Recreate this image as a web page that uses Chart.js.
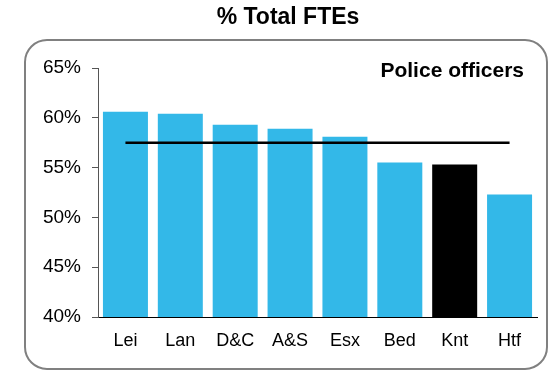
<!DOCTYPE html>
<html>
<head>
<meta charset="utf-8">
<script src="https://cdn.jsdelivr.net/npm/chart.js@4"></script>
<style>
  html, body { margin: 0; padding: 0; background: #fff; }
</style>
</head>
<body>
<canvas id="myChart" width="550" height="372"></canvas>
<script>
const forces = ['Lei', 'Lan', 'D&C', 'A&S', 'Esx', 'Bed', 'Knt', 'Htf'];
const officerShare = [60.6, 60.4, 59.3, 58.9, 58.1, 55.5, 55.3, 52.3];
const averageShare = 57.5;
const highlight = 'Knt';
const yTicks = [40, 45, 50, 55, 60, 65];

const FONT = "Arial, 'Liberation Sans', sans-serif";
const blue = '#33B8E8';

// rounded frame behind the chart + the "Police officers" label
const framePlugin = {
  id: 'frame',
  beforeDraw(chart) {
    const c = chart.ctx;
    c.save();
    c.strokeStyle = '#808080';
    c.lineWidth = 2;
    c.beginPath();
    c.roundRect(25, 40, 522, 329, 22);
    c.stroke();
    c.restore();
  },
  afterDraw(chart) {
    const c = chart.ctx;
    c.save();
    c.font = 'bold 21px ' + FONT;
    c.fillStyle = '#000';
    c.textAlign = 'right';
    c.textBaseline = 'middle';
    c.fillText('Police officers', 524, 71);
    c.restore();
  }
};

const ctx = document.getElementById('myChart');

new Chart(ctx, {
  type: 'bar',
  data: {
    labels: forces,
    datasets: [
      {
        type: 'line',
        label: 'Average',
        data: forces.map(() => averageShare),
        borderColor: '#000',
        borderWidth: 2.5,
        pointRadius: 0,
        order: 0
      },
      {
        label: 'Police officers',
        data: officerShare,
        backgroundColor: forces.map(f => f === highlight ? '#000' : blue),
        barPercentage: 0.82,
        categoryPercentage: 1,
        order: 1
      }
    ]
  },
  options: {
    responsive: false,
    animation: false,
    layout: { padding: { left: 39, right: 13, top: 0, bottom: 0 } },
    plugins: {
      legend: { display: false },
      tooltip: { enabled: false },
      title: {
        display: true,
        text: '% Total FTEs',
        color: '#000',
        font: { family: FONT, size: 23, weight: 'bold' },
        padding: { top: 4, bottom: 36.4 }
      }
    },
    scales: {
      x: {
        grid: { display: false, drawTicks: false },
        border: { display: true, color: '#000', width: 1 },
        ticks: { color: '#000', font: { family: FONT, size: 18 }, padding: 13 },
        afterFit(s) { s.height = 55; }
      },
      y: {
        min: yTicks[0],
        max: yTicks[yTicks.length - 1],
        afterBuildTicks(s) { s.ticks = yTicks.map(v => ({ value: v })); },
        grid: { drawOnChartArea: false, drawTicks: true, tickLength: 6, color: '#555' },
        border: { display: true, color: '#555', width: 1 },
        ticks: {
          color: '#000',
          font: { family: FONT, size: 19 },
          padding: 11,
          callback: v => v + '%'
        },
        afterFit(s) { s.width = 59; }
      }
    }
  },
  plugins: [framePlugin]
});
</script>
</body>
</html>
